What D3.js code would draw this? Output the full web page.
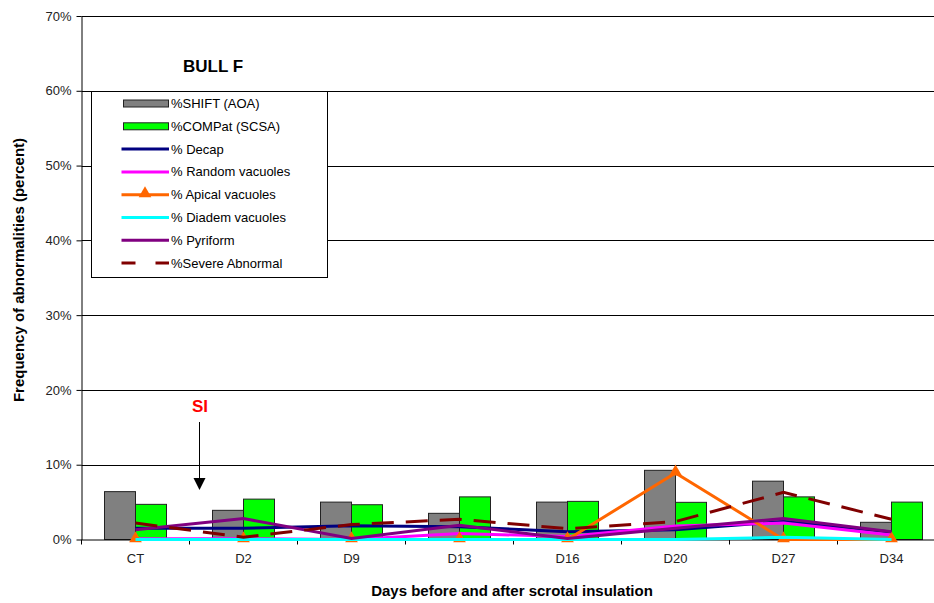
<!DOCTYPE html>
<html><head><meta charset="utf-8">
<script src="https://cdn.jsdelivr.net/npm/d3@7"></script>
<style>body{margin:0;background:#fff}svg{display:block;font-family:Arial,"Liberation Sans",sans-serif}</style>
</head><body><svg id="c" width="934" height="603"></svg>
<script>
const categories = ["CT","D2","D9","D13","D16","D20","D27","D34"];
const shiftAOA   = [6.4, 3.9, 5.0, 3.5, 5.0, 9.25, 7.8, 2.3];
const compatSCSA = [4.7, 5.4, 4.65, 5.7, 5.1, 4.97, 5.7, 5.0];
const decap      = [1.5, 1.5, 1.85, 1.7, 1.05, 1.3, 2.4, 1.0];
const randomVac  = [0.1, 0.1, 0.0, 0.8, 0.4, 1.8, 2.2, 0.6];
const apicalVac  = [0, 0, 0, 0, 0, 8.9, 0, 0];
const diademVac  = [0, 0, 0, 0, 0, 0, 0.3, 0];
const pyriform   = [1.3, 2.8, 0.15, 1.9, 0.15, 1.5, 2.8, 1.05];
const severeAbn  = [2.2, 0.3, 2.0, 2.7, 1.45, 2.4, 6.3, 2.7];
const yTicks = [0,10,20,30,40,50,60,70];

const barSeries = [
  {name:"%SHIFT (AOA)", key:"shift", values:shiftAOA, fill:"#808080"},
  {name:"%COMPat (SCSA)", key:"compat", values:compatSCSA, fill:"#00FF00"}
];
const lineSeries = [
  {name:"% Decap", values:decap, color:"#000080"},
  {name:"% Random vacuoles", values:randomVac, color:"#FF00FF"},
  {name:"% Apical vacuoles", values:apicalVac, color:"#FF6600", marker:true},
  {name:"% Diadem vacuoles", values:diademVac, color:"#00FFFF"},
  {name:"% Pyriform", values:pyriform, color:"#800080"},
  {name:"%Severe Abnormal", values:severeAbn, color:"#800000", dash:"22,12"}
];

const svg = d3.select("#c");
const x = d3.scaleBand().domain(categories).range([81.5, 81.5+108*categories.length]).padding(0);
const xs = d3.scaleBand().domain(barSeries.map(d=>d.key)).range([0, x.bandwidth()]).paddingInner(0).paddingOuter(0.742);
const y = d3.scaleLinear().domain([0,70]).range([539.5, 16]);

// gridlines
svg.append("g").selectAll("line").data(yTicks.filter(t=>t>0)).join("line")
  .attr("x1",81.5).attr("x2",950).attr("y1",d=>Math.round(y(d))+0.5).attr("y2",d=>Math.round(y(d))+0.5)
  .attr("stroke","#000").attr("stroke-width",1);

// bars
barSeries.forEach(s=>{
  svg.append("g").selectAll("rect").data(categories).join("rect")
    .attr("x",(c)=>x(c)+xs(s.key)).attr("width",xs.bandwidth())
    .attr("y",(c,i)=>y(s.values[i])).attr("height",(c,i)=>y(0)-y(s.values[i]))
    .attr("fill",s.fill).attr("stroke","#222").attr("stroke-width",1);
});

// axes
const yAxis = svg.append("g").attr("transform","translate(81.5,0)")
  .call(d3.axisLeft(y).tickValues(yTicks).tickFormat(d=>d+"%").tickSize(5).tickSizeOuter(0));
yAxis.select(".domain").attr("stroke","#000");
yAxis.selectAll("text").attr("font-size",13).attr("fill","#222").attr("font-family","Arial, Liberation Sans, sans-serif").attr("dx",-2);
const xAxis = svg.append("g").attr("transform",`translate(0,${y(0)})`)
  .call(d3.axisBottom(x).tickSize(0).tickSizeOuter(0));
xAxis.select(".domain").attr("stroke","#000");
xAxis.selectAll("text").attr("font-size",13).attr("fill","#222").attr("dy","1.6em").attr("font-family","Arial, Liberation Sans, sans-serif");
// category boundary ticks
svg.append("g").selectAll("line").data(categories).join("line")
  .attr("x1",c=>x(c)).attr("x2",c=>x(c)).attr("y1",y(0)).attr("y2",y(0)+5).attr("stroke","#000");
svg.append("line").attr("x1",x(categories[categories.length-1])+x.bandwidth()).attr("x2",x(categories[categories.length-1])+x.bandwidth())
  .attr("y1",y(0)).attr("y2",y(0)+5).attr("stroke","#000");

// lines
const line = d3.line().x((d,i)=>x(categories[i])+x.bandwidth()/2).y(d=>y(d));
lineSeries.forEach(s=>{
  svg.append("path").datum(s.values).attr("d",line).attr("fill","none")
    .attr("stroke",s.color).attr("stroke-width",3).attr("stroke-dasharray",s.dash||null);
  if(s.marker){
    svg.append("g").selectAll("path").data(s.values).join("path")
      .attr("d",d3.symbol(d3.symbolTriangle,70))
      .attr("transform",(d,i)=>`translate(${x(categories[i])+x.bandwidth()/2},${y(d)-1})`)
      .attr("fill",s.color);
  }
});

// SI annotation
svg.append("text").attr("x",200).attr("y",412).attr("text-anchor","middle").attr("font-size",17)
  .attr("font-weight","bold").attr("fill","#FF0000").text("SI");
svg.append("line").attr("x1",199.5).attr("x2",199.5).attr("y1",422).attr("y2",481).attr("stroke","#000").attr("stroke-width",1);
svg.append("path").attr("d","M193.5,478 L205.5,478 L199.5,490 Z").attr("fill","#000");

// title
svg.append("text").attr("x",213).attr("y",72).attr("text-anchor","middle").attr("font-size",17)
  .attr("font-weight","bold").attr("fill","#000").text("BULL F");

// axis titles
svg.append("text").attr("x",512).attr("y",596).attr("text-anchor","middle").attr("font-size",15)
  .attr("font-weight","bold").text("Days before and after scrotal insulation");
svg.append("text").attr("transform","translate(24,270) rotate(-90)").attr("text-anchor","middle").attr("font-size",15)
  .attr("font-weight","bold").text("Frequency of abnormalities (percent)");

// legend
const lg = svg.append("g");
lg.append("rect").attr("x",91.5).attr("y",91.5).attr("width",236).attr("height",186).attr("fill","#fff").attr("stroke","#000");
const items = [...barSeries.map(s=>({...s,type:"bar"})), ...lineSeries.map(s=>({...s,type:"line"}))];
items.forEach((it,i)=>{
  const cy = 103.5 + i*22.8;
  if(it.type==="bar"){
    lg.append("rect").attr("x",123.5).attr("y",cy-3.5).attr("width",45).attr("height",7).attr("fill",it.fill).attr("stroke","#222");
  } else {
    lg.append("line").attr("x1",121.5).attr("x2",169).attr("y1",cy).attr("y2",cy).attr("stroke",it.color)
      .attr("stroke-width",3).attr("stroke-dasharray",it.dash?"14,20":null);
    if(it.marker) lg.append("path").attr("d",d3.symbol(d3.symbolTriangle,70)).attr("transform",`translate(145,${cy-1})`).attr("fill",it.color);
  }
  lg.append("text").attr("x",171).attr("y",cy+4.5).attr("font-size",13).attr("fill","#000").text(it.name);
});
</script></body></html>
